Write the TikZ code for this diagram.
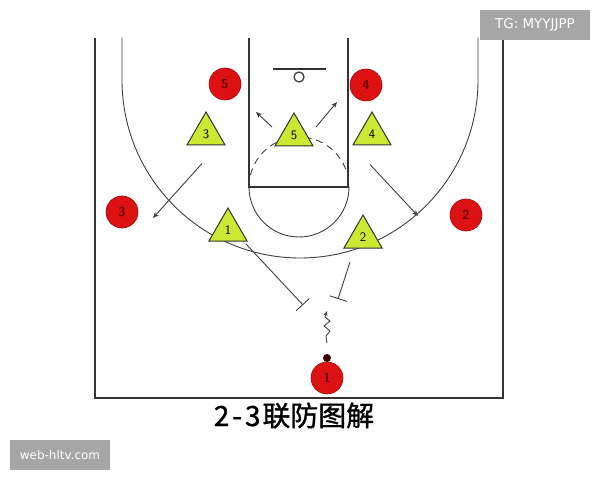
\documentclass[tikz,border=0pt]{standalone}
\usepackage{fontspec}
\newfontfamily\cjk[FakeBold=1.2]{Noto Sans CJK SC}
\newfontfamily\wm{DejaVu Sans}
\usetikzlibrary{arrows.meta,shapes.geometric}
\definecolor{offred}{HTML}{DD1111}
\definecolor{defyel}{HTML}{CCE833}
\definecolor{wmgray}{HTML}{A6A6A6}
\begin{document}
\begin{tikzpicture}[x=1bp,y=-1bp,
  court/.style={line width=1.6bp,black!80},
  thin/.style={line width=0.9bp,black!75},
  off/.style={circle,fill=offred,draw=offred!70!black,line width=0.6bp,minimum size=32bp,inner sep=0pt,font=\sffamily\bfseries\fontsize{13}{13}\selectfont,text=black!60!red},
  def/.style={regular polygon,regular polygon sides=3,fill=defyel,draw=black!80,line width=1bp,minimum size=44bp,inner sep=0pt,font=\sffamily\fontsize{13}{13}\selectfont},
  mv/.style={thin,-{Stealth[length=6bp,width=5bp]}},
  scr/.style={thin,-{Bar[width=18bp,line width=0.9bp]}},
  wmbox/.style={fill=wmgray,text=white,inner sep=0pt}
]
\useasboundingbox (0,0) rectangle (600,480);
\fill[white] (0,0) rectangle (600,480);
% court
\draw[court] (95,38) -- (95,398) -- (503,398) -- (503,38);
% three point line
\draw[thin] (122,38) -- (122,80) arc[start angle=180,end angle=0,radius=178] -- (478,38);
% lane
\draw[court] (249,38) -- (249,187) -- (348,187) -- (348,38);
\draw[thin] (249,187) arc[start angle=180,end angle=0,radius=50];
\draw[thin,dash pattern=on 7bp off 5bp] (249,187) arc[start angle=180,end angle=360,radius=50];
% backboard and hoop
\draw[court] (273,69) -- (326,69);
\draw[thin,line width=1.3bp] (299,77) circle[radius=5];
% offense
\node[off] (o5) at (225,84) {5};
\node[off] (o4) at (366,85) {4};
\node[off] (o3) at (122,212) {3};
\node[off] (o2) at (466,215) {2};
\node[off] (o1) at (327,378) {1};
\fill[black!60!red!60!black] (327,358) circle[radius=4];
% defense
\node[def] (d3) at (206,134) {3};
\node[def] (d5) at (294,135) {5};
\node[def] (d4) at (372,134) {4};
\node[def] (d1) at (228,230) {1};
\node[def] (d2) at (363,237) {2};
% movement
\coordinate (a3) at (153,218);
\coordinate (a4) at (418,216);
\coordinate (a5l) at (256,112);
\coordinate (a5r) at (337,102);
\coordinate (b1) at (303,305);
\coordinate (b2) at (338,299);
\coordinate (dr0) at (327,343);
\coordinate (dr1) at (327,311);
\draw[mv] (d3.south) ++(-4,18) -- (a3);
\draw[mv] (d4.south) ++(-2,19) -- (a4);
\draw[mv] (272,127) -- (a5l);
\draw[mv] (316,127) -- (a5r);
\draw[scr] (246,244) -- (b1);
\draw[scr] (350,262) -- (b2);
% dribble
\draw[thin,-{Stealth[length=5bp,width=4bp]}] (dr0) -- (326,336) -- (330,331) -- (324,326) -- (330,321) -- (325,317) -- (dr1);
% caption
\node[font=\cjk\fontsize{28}{28}\selectfont,anchor=base] (cap) at (294,426) {2\kern3bp-\kern3bp3\kern2bp联防图解};
% watermarks
\node[wmbox,minimum width=110bp,minimum height=30bp,font=\wm\fontsize{13.5}{13.5}\selectfont] (w1) at (535,25) {TG: MYYJJPP};
\node[wmbox,minimum width=100bp,minimum height=30bp,font=\wm\fontsize{12}{12}\selectfont] (w2) at (60,455) {web-hltv.com};
\end{tikzpicture}
\end{document}
